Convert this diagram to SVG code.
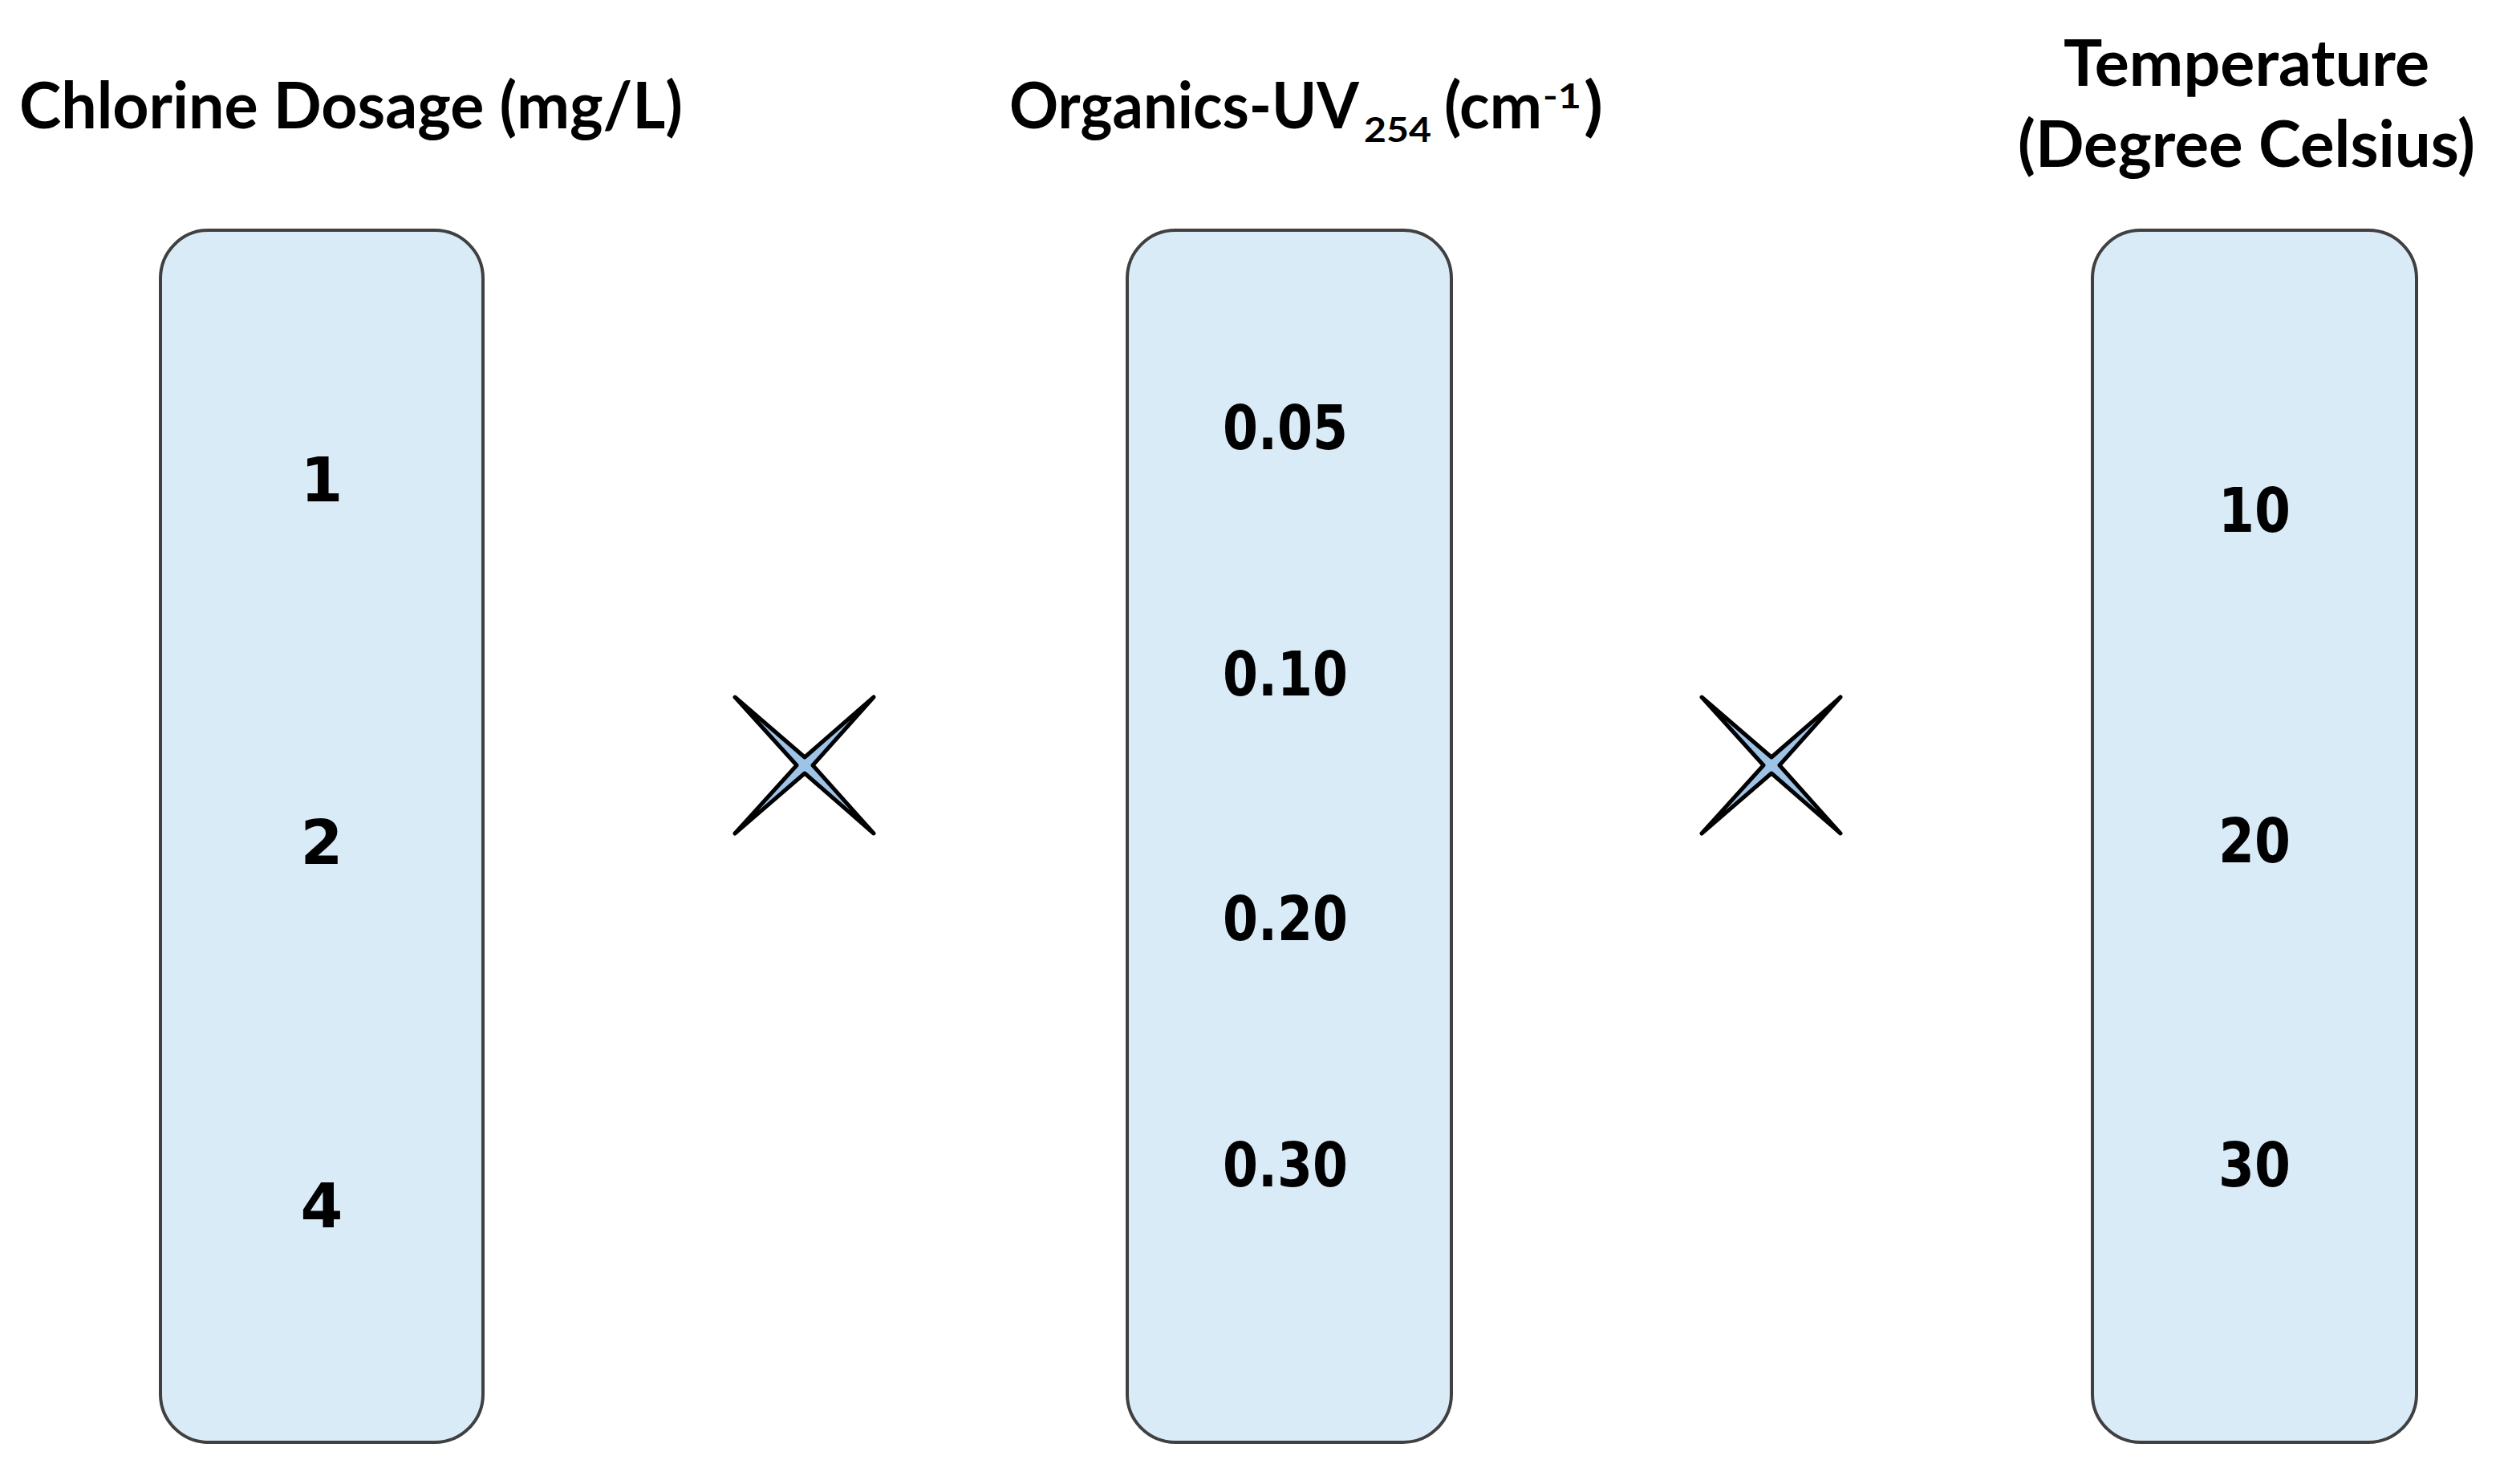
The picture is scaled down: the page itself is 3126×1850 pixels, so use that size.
<svg xmlns="http://www.w3.org/2000/svg" width="3126" height="1850" viewBox="0 0 3126 1850">
<defs>
<style>
.box{fill:#DAEBF8;stroke:#404040;stroke-width:4}
.title{font-family:Lato,"Open Sans","Liberation Sans",sans-serif;font-weight:bold;font-size:80px;fill:#000}
.val{font-family:"DejaVu Sans",Verdana,sans-serif;font-weight:bold;font-size:76px;fill:#000;text-anchor:middle}
.star{fill:#9DC3E6;stroke:#000;stroke-width:5;stroke-linejoin:round}
</style>
</defs>
<rect width="3126" height="1850" fill="#fff"/>
<g id="title-chlorine">
<text class="title" x="24" y="160" textLength="827" lengthAdjust="spacingAndGlyphs">Chlorine Dosage (mg/L)</text>
</g>
<g id="title-organics">
<text class="title" y="160"><tspan x="1258" textLength="436" lengthAdjust="spacingAndGlyphs">Organics-UV</tspan><tspan x="1700" y="177" font-size="42" textLength="84" lengthAdjust="spacingAndGlyphs">254</tspan><tspan x="1800" y="160" textLength="122" lengthAdjust="spacingAndGlyphs">(cm</tspan><tspan x="1923" y="135" font-size="42" textLength="48" lengthAdjust="spacingAndGlyphs">-1</tspan><tspan x="1974" y="160" textLength="24" lengthAdjust="spacingAndGlyphs">)</tspan></text>
</g>
<g id="title-temperature">
<text class="title" x="2800" y="107" text-anchor="middle" textLength="456" lengthAdjust="spacingAndGlyphs">Temperature</text>
<text class="title" x="2800" y="208" text-anchor="middle" textLength="570" lengthAdjust="spacingAndGlyphs">(Degree Celsius)</text>
</g>
<g id="node-chlorine">
<rect class="box" x="200" y="287" width="402" height="1511" rx="60" ry="60"/>
<text class="val" x="401" y="625">1</text>
<text class="val" x="401" y="1077">2</text>
<text class="val" x="401" y="1530">4</text>
</g>
<g id="node-organics">
<rect class="box" x="1405" y="287" width="404" height="1511" rx="60" ry="60"/>
<text class="val" x="1602" y="560" textLength="156" lengthAdjust="spacingAndGlyphs">0.05</text>
<text class="val" x="1602" y="867" textLength="156" lengthAdjust="spacingAndGlyphs">0.10</text>
<text class="val" x="1602" y="1172" textLength="156" lengthAdjust="spacingAndGlyphs">0.20</text>
<text class="val" x="1602" y="1479" textLength="156" lengthAdjust="spacingAndGlyphs">0.30</text>
</g>
<g id="node-temperature">
<rect class="box" x="2608" y="287" width="404" height="1511" rx="60" ry="60"/>
<text class="val" x="2810" y="663" textLength="90" lengthAdjust="spacingAndGlyphs">10</text>
<text class="val" x="2810" y="1075" textLength="90" lengthAdjust="spacingAndGlyphs">20</text>
<text class="val" x="2810" y="1479" textLength="90" lengthAdjust="spacingAndGlyphs">30</text>
</g>
<g id="connectors">
<path id="times-1" class="star" d="M916,869 L1003,944 L1089,869 L1013,954 L1089,1039 L1003,964 L916,1039 L993,954 Z"/>
<path id="times-2" class="star" d="M2121,869 L2208,944 L2294,869 L2218,954 L2294,1039 L2208,964 L2121,1039 L2198,954 Z"/>
</g>
</svg>
